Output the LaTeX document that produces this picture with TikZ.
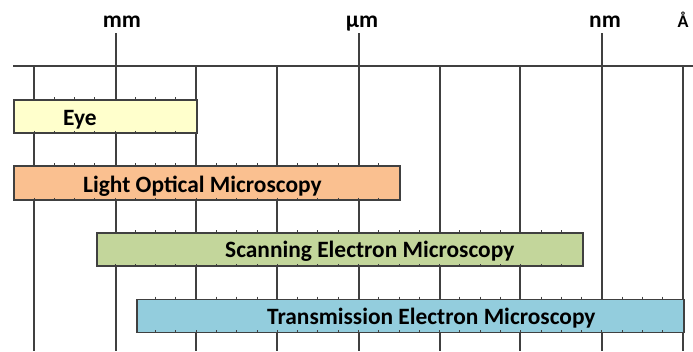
\documentclass[tikz,border=0pt]{standalone}
\usepackage{fontspec}
\setmainfont{Carlito}
\definecolor{linegray}{HTML}{404040}
\definecolor{eyefill}{HTML}{FFFFCC}
\definecolor{lomfill}{HTML}{FAC090}
\definecolor{semfill}{HTML}{C3D69B}
\definecolor{temfill}{HTML}{93CDDD}
\tikzset{
  axis/.style={draw=linegray, line width=1.4pt},
  bar/.style={draw=linegray, line width=1.5pt, inner sep=0pt, anchor=north west},
  barlabel/.style={anchor=base west, inner sep=0pt, font=\fontsize{23.4}{28}\selectfont\bfseries},
  unitlabel/.style={anchor=base, inner sep=0pt, font=\fontsize{23.4}{28}\selectfont\bfseries},
  minortick/.style={draw=linegray, line width=1pt}
}
% minor ticks along the top and bottom edges of a bar:
% #1,#2 = first and last tick index, #3 = top edge, #4 = bottom edge
\newcommand\barticks[4]{%
  \foreach \k in {#1,...,#2}{%
    \pgfmathsetmacro\tx{34+20.28*\k}
    \draw[minortick] (\tx,#3-1.8) -- (\tx,#3+1.2);
    \draw[minortick] (\tx,#4-1.2) -- (\tx,#4+1.8);
  }}
\begin{document}
\begin{tikzpicture}[x=1pt,y=-1pt]
\useasboundingbox[fill=white] (0,0) rectangle (693,351);

% unit labels and their marks above the scale
\node[unitlabel] (mm) at (122,27) {mm};
\node[unitlabel] (um) at (362,27) {µm};
\node[unitlabel] (nm) at (605,27) {nm};
\node[unitlabel, font=\fontsize{18}{22}\selectfont\bfseries] (ang) at (683,27) {Å};
\coordinate (mmtop) at (116,33);
\coordinate (umtop) at (359,33);
\coordinate (nmtop) at (602,33);

% scale line
\coordinate (axL) at (13,66);
\coordinate (axR) at (693,66);
\draw[axis] (axL) -- (axR);
\draw[axis] (mmtop) -- (116,66);
\draw[axis] (umtop) -- (359,66);
\draw[axis] (nmtop) -- (602,66);

% decade lines
\foreach \x in {34,116,196,277,359,440,520,602,683}
  \draw[axis] (\x,66) -- (\x,351);

% ranges
\node[bar, fill=eyefill, minimum width=183pt, minimum height=33pt] (eye) at (13,99) {};
\node[bar, fill=lomfill, minimum width=386pt, minimum height=34pt] (lom) at (13,165) {};
\node[bar, fill=semfill, minimum width=486pt, minimum height=33pt] (sem) at (96,232) {};
\node[bar, fill=temfill, minimum width=547pt, minimum height=33pt] (tem) at (136,298.5) {};

\barticks{0}{7}{99}{132}
\barticks{0}{17}{165}{199}
\barticks{4}{26}{232}{265}
\barticks{6}{31}{298.5}{331.5}

\node[barlabel] (eyetxt) at (63,125) {Eye};
\node[barlabel] (lomtxt) at (83,192.5) {Light Optical Microscopy};
\node[barlabel] (semtxt) at (225,257.5) {Scanning Electron Microscopy};
\node[barlabel] (temtxt) at (267,324) {Transmission Electron Microscopy};
\end{tikzpicture}
\end{document}
